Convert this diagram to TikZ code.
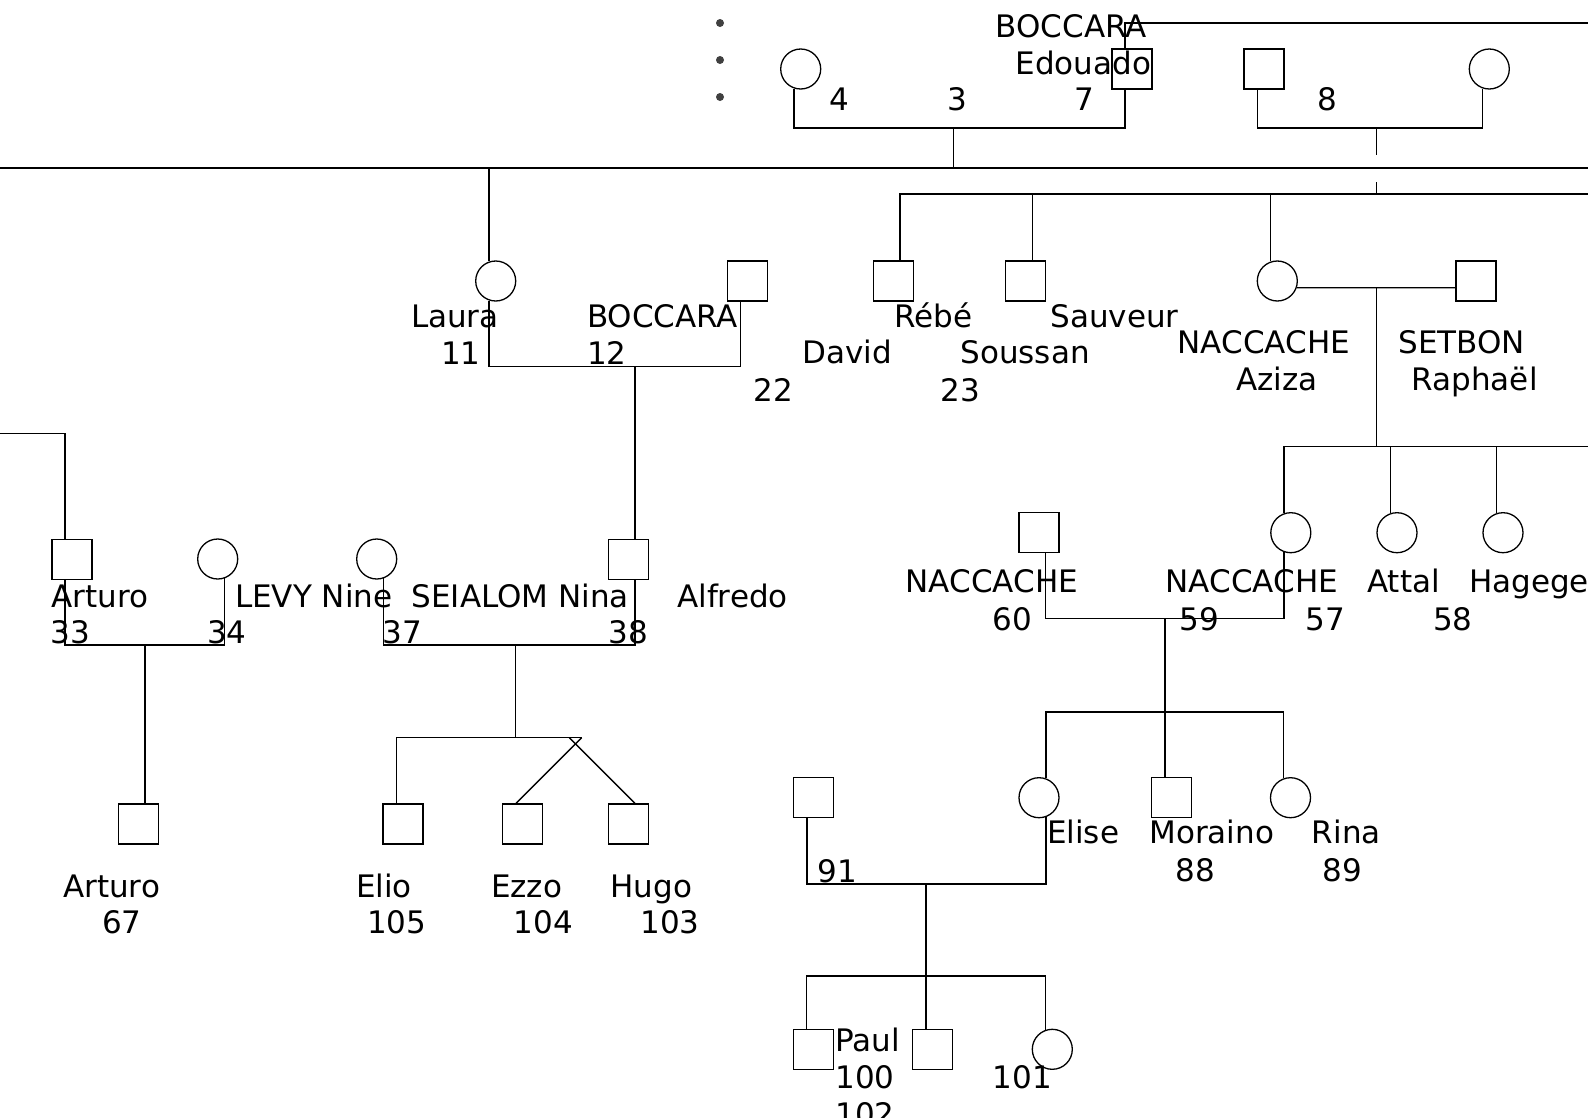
\documentclass[tikz,border=0pt]{standalone}
\usepackage{fontspec}
\setmainfont{DejaVu Sans}
\usetikzlibrary{calc}
\begin{document}
\begin{tikzpicture}[x=1pt,y=-1pt,
  person/.style={draw, line width=1.3pt, inner sep=0pt, minimum size=40pt},
  male/.style={person, rectangle},
  female/.style={person, circle},
  link/.style={line width=1.3pt},
  lbl/.style={anchor=base west, inner sep=0pt, yshift=-2pt, font=\fontsize{31}{37}\selectfont}]
\useasboundingbox (0,0) rectangle (1588,1117);
% bullets
\fill[black!75] (720,23) circle (4pt);
\fill[black!75] (720,60) circle (4pt);
\fill[black!75] (720,97) circle (4pt);
% persons
\node[female] (c4) at (800.7,69) {};
\node[male] (s7) at (1132,69) {};
\node[male] (s8) at (1264,69) {};
\node[female] (c9) at (1489.3,69) {};
\node[female] (c11) at (495.7,281) {};
\node[male] (s12) at (747.7,281) {};
\node[male] (s22) at (893.3,281) {};
\node[male] (s23) at (1025.7,281) {};
\node[female] (cAz) at (1277.3,281) {};
\node[male] (sSe) at (1476,281) {};
\node[male] (s33) at (72,559.3) {};
\node[female] (c34) at (217.7,559) {};
\node[female] (c37) at (376.7,559) {};
\node[male] (s38) at (628.5,559.3) {};
\node[male] (s60) at (1039.1,532.7) {};
\node[female] (c57) at (1290.8,532.7) {};
\node[female] (c58) at (1397,532.7) {};
\node[female] (cHa) at (1503,532.7) {};
\node[male] (s67) at (138.3,824) {};
\node[male] (s105) at (403,824) {};
\node[male] (s104) at (522.3,824) {};
\node[male] (s103) at (628.3,824) {};
\node[male] (s91) at (813.8,797.7) {};
\node[female] (cEl) at (1039,797.7) {};
\node[male] (sMo) at (1171.6,797.7) {};
\node[female] (cRi) at (1290.5,797.7) {};
\node[male] (s100) at (813.3,1049.3) {};
\node[male] (s102) at (932.7,1049.3) {};
\node[female] (c101) at (1052.3,1049.3) {};
% junction coordinates
\coordinate (m47) at (953.3,128);
\coordinate (w168) at (0,168);
\coordinate (e168) at (1588,168);
\coordinate (e23) at (1588,23);
\coordinate (m8) at (1376.7,128);
\coordinate (m8a) at (1376.7,155);
\coordinate (m8b) at (1376.7,182);
\coordinate (e194) at (1588,194);
\coordinate (m12) at (635,366.7);
\coordinate (m9) at (1376.7,287.7);
\coordinate (e447) at (1588,446.6);
\coordinate (m59) at (1165,618.3);
\coordinate (m712) at (1165,712);
\coordinate (m91) at (926,884);
\coordinate (j976) at (926,976);
\coordinate (w433) at (0,433.3);
\coordinate (m33) at (145,645);
\coordinate (m37) at (515.7,645);
\coordinate (j738) at (515.7,737.7);
\coordinate (t738e) at (581.7,737.7);
\coordinate (t738w) at (569.3,737.7);
\coordinate (s23t) at ([xshift=6.6pt]s23.north);
% connectors
\draw[link] (w168) -- (e168);
\draw[link] (c4.-109.6) |- (m47) -| ([xshift=-7pt]s7.south);
\draw[link] (m47) -- (m47 |- w168);
\draw[link] ([xshift=-7pt]s7.north) |- (e23);
\draw[link] ([xshift=-6.7pt]s8.south) |- (m8) -| (c9.-109.6);
\draw[link] (m8) -- (m8a);
\draw[link] (m8b) -- (m8b |- e194);
\draw[link] ([xshift=6.7pt]s22.north) |- (e194);
\draw[link] (s23t) -- (s23t |- e194);
\draw[link] (cAz.109.6) -- (cAz.109.6 |- e194);
\draw[link] (c11.109.6) -- (c11.109.6 |- w168);
\draw[link] (c11.-109.6) |- (m12) -| ([xshift=-7pt]s12.south);
\draw[link] (m12) -- ([xshift=6.5pt]s38.north);
\draw[link] (cAz.-19.6) -- ([yshift=-6.7pt]sSe.west);
\draw[link] (m9) -- (m9 |- e447);
\draw[link] (c57.109.6) |- (e447);
\draw[link] (c58.109.6) -- (c58.109.6 |- e447);
\draw[link] (cHa.109.6) -- (cHa.109.6 |- e447);
\draw[link] ([xshift=6.6pt]s60.south) |- (m59) -| (c57.-109.6);
\draw[link] (m59) -- ([xshift=-6.6pt]sMo.north);
\draw[link] (cEl.70.4) -- (cEl.70.4 |- m712) -| (cRi.109.6);
\draw[link] ([xshift=-6.7pt]s91.south) |- (m91) -| (cEl.-70.4);
\draw[link] (m91) -- ([xshift=-6.7pt]s102.north);
\draw[link] ([xshift=-6.6pt]s100.north) |- (j976) -| (c101.109.6);
\draw[link] (w433) -| ([xshift=-7pt]s33.north);
\draw[link] ([xshift=-7pt]s33.south) |- (m33) -| (c34.-70.4);
\draw[link] (m33) -- ([xshift=6.7pt]s67.north);
\draw[link] (c37.-70.4) |- (m37) -| ([xshift=6.5pt]s38.south);
\draw[link] (m37) -- (j738);
\draw[link] ([xshift=-6.3pt]s105.north) |- (t738e);
\draw[link] (t738e) -- ([xshift=-6.3pt]s104.north);
\draw[link] (t738w) -- ([xshift=6.7pt]s103.north);
% labels
\node[lbl] (t1) at (995.5,35) {BOCCARA};
\node[lbl] (t2) at (1015.5,72) {Edouado};
\node[lbl] (t3) at (1074.5,108.3) {7};
\node[lbl] (t4) at (829.5,108.3) {4};
\node[lbl] (t5) at (946.8,108.3) {3};
\node[lbl] (t6) at (1317.5,108.3) {8};
\node[lbl] (t7) at (410.8,325) {Laura};
\node[lbl] (t8) at (440.8,362.3) {11};
\node[lbl] (t9) at (586.8,325) {BOCCARA};
\node[lbl] (t10) at (586.8,362.3) {12};
\node[lbl] (t11) at (753.5,399.3) {22};
\node[lbl] (t12) at (894.2,325) {Rébé};
\node[lbl] (t13) at (802.5,361.7) {David};
\node[lbl] (t14) at (1050.2,325) {Sauveur};
\node[lbl] (t15) at (960.2,361.7) {Soussan};
\node[lbl] (t16) at (940.2,399.3) {23};
\node[lbl] (t17) at (1177.5,351.7) {NACCACHE};
\node[lbl] (t18) at (1236.3,388.3) {Aziza};
\node[lbl] (t19) at (1398.2,351.7) {SETBON};
\node[lbl] (t20) at (1411.5,388.3) {Raphaël};
\node[lbl] (t21) at (51.2,605) {Arturo};
\node[lbl] (t22) at (50.2,641.7) {33};
\node[lbl] (t23) at (234.8,605) {LEVY Nine};
\node[lbl] (t24) at (206.8,641.7) {34};
\node[lbl] (t25) at (411.5,605) {SEIALOM Nina};
\node[lbl] (t26) at (382.5,641.7) {37};
\node[lbl] (t27) at (608.2,641.7) {38};
\node[lbl] (t28) at (677,605) {Alfredo};
\node[lbl] (t29) at (905.5,590) {NACCACHE};
\node[lbl] (t30) at (992.6,628.3) {60};
\node[lbl] (t31) at (1165.5,590) {NACCACHE};
\node[lbl] (t32) at (1179.1,628.3) {59};
\node[lbl] (t33) at (1305.5,628.3) {57};
\node[lbl] (t34) at (1367,590) {Attal};
\node[lbl] (t35) at (1432.8,628.3) {58};
\node[lbl] (t36) at (1469,590) {Hagege};
\node[lbl] (t37) at (355.8,895) {Elio};
\node[lbl] (t38) at (366.8,931.7) {105};
\node[lbl] (t39) at (490.8,895) {Ezzo};
\node[lbl] (t40) at (513.5,931.7) {104};
\node[lbl] (t41) at (610.2,895) {Hugo};
\node[lbl] (t42) at (640.2,931.7) {103};
\node[lbl] (t43) at (63,895) {Arturo};
\node[lbl] (t44) at (101.8,931.7) {67};
\node[lbl] (t45) at (1046.9,841.7) {Elise};
\node[lbl] (t46) at (1149.1,841.7) {Moraino};
\node[lbl] (t47) at (1311.7,841.7) {Rina};
\node[lbl] (t48) at (817.3,880) {91};
\node[lbl] (t49) at (1175.1,879) {88};
\node[lbl] (t50) at (1322.5,879) {89};
\node[lbl] (t51) at (835.2,1049.3) {Paul};
\node[lbl] (t52) at (835.2,1086) {100};
\node[lbl] (t53) at (835.2,1123) {102};
\node[lbl] (t54) at (992.5,1086) {101};
\end{tikzpicture}
\end{document}
